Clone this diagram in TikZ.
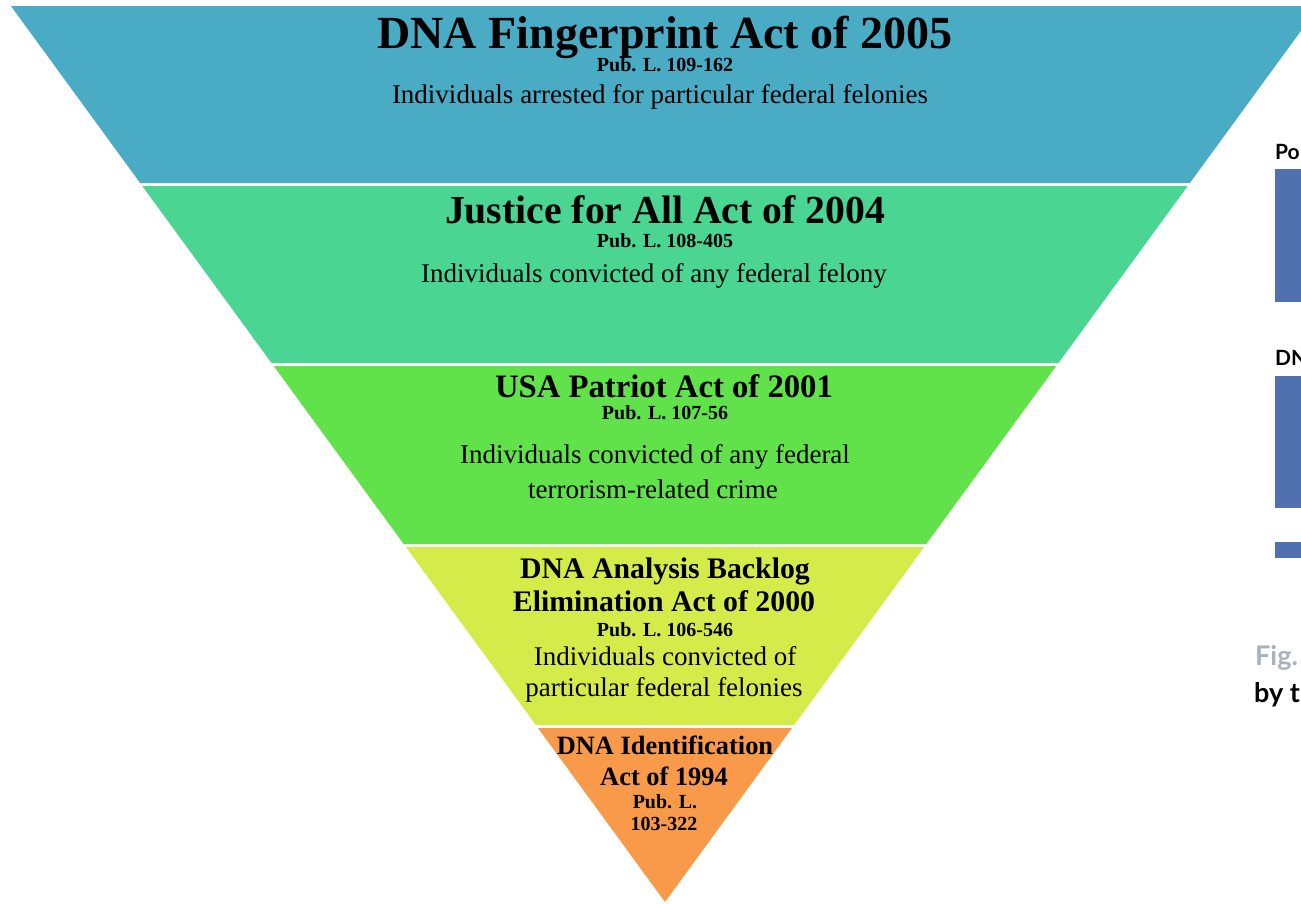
\documentclass[tikz,border=0pt]{standalone}
\usepackage{fontspec}
\setmainfont{Liberation Serif}
\newfontfamily\latofont{Lato}
\definecolor{bandA}{HTML}{4AABC5}
\definecolor{bandB}{HTML}{4AD593}
\definecolor{bandC}{HTML}{61E14A}
\definecolor{bandD}{HTML}{D5EB4A}
\definecolor{bandE}{HTML}{F89A4A}
\definecolor{barblue}{HTML}{5070B0}
\definecolor{figgray}{HTML}{A9B1BD}
\newcommand\fsz[1]{\fontsize{#1}{#1}\selectfont}
\newcommand\bandshape[3]{%
  \fill[#3] ({665-0.73*(902-#1)},#1) -- ({665+0.73*(902-#1)},#1)
    -- ({665+0.73*(902-#2)},#2) -- ({665-0.73*(902-#2)},#2) -- cycle;}
\begin{document}
\begin{tikzpicture}[x=1pt,y=-1pt,
  lbl/.style={anchor=base,inner sep=0pt,text=black},
  side/.style={anchor=base west,inner sep=0pt,font=\latofont\bfseries\fsz{21}}]
\useasboundingbox[fill=white] (0,0) rectangle (1301,903);
% bands
\bandshape{6}{183}{bandA}
\bandshape{186}{363}{bandB}
\bandshape{366}{544}{bandC}
\bandshape{547}{725}{bandD}
\bandshape{728}{902}{bandE}
% band 1
\node[lbl,font=\bfseries\fsz{46}] (t1) at (665,48) {DNA Fingerprint Act of 2005};
\node[lbl,font=\bfseries\fsz{20}] (p1) at (665,71) {Pub. L. 109-162};
\node[lbl,font=\fsz{27}] (d1) at (660,103) {Individuals arrested for particular federal felonies};
% band 2
\node[lbl,font=\bfseries\fsz{39.7}] (t2) at (665,223) {Justice for All Act of 2004};
\node[lbl,font=\bfseries\fsz{20}] (p2) at (665,247) {Pub. L. 108-405};
\node[lbl,font=\fsz{27}] (d2) at (654,282) {Individuals convicted of any federal felony};
% band 3
\node[lbl,font=\bfseries\fsz{32.7}] (t3) at (664,397) {USA Patriot Act of 2001};
\node[lbl,font=\bfseries\fsz{20}] (p3) at (665,419) {Pub. L. 107-56};
\node[lbl,font=\fsz{27}] (d3a) at (655,463) {Individuals convicted of any federal};
\node[lbl,font=\fsz{27}] (d3b) at (653,498) {terrorism-related crime};
% band 4
\node[lbl,font=\bfseries\fsz{29.8}] (t4a) at (665,578) {DNA Analysis Backlog};
\node[lbl,font=\bfseries\fsz{29.8}] (t4b) at (664,611) {Elimination Act of 2000};
\node[lbl,font=\bfseries\fsz{20}] (p4) at (665,636) {Pub. L. 106-546};
\node[lbl,font=\fsz{27}] (d4a) at (665,665) {Individuals convicted of};
\node[lbl,font=\fsz{27}] (d4b) at (664,696) {particular federal felonies};
% band 5
\node[lbl,font=\bfseries\fsz{26.4}] (t5a) at (665,754) {DNA Identification};
\node[lbl,font=\bfseries\fsz{26.4}] (t5b) at (664,785) {Act of 1994};
\node[lbl,font=\bfseries\fsz{20}] (p5a) at (665,808) {Pub. L.};
\node[lbl,font=\bfseries\fsz{20}] (p5b) at (664,830) {103-322};
% right side (cropped neighbouring figure)
\node[side] (po) at (1275,159) {Po};
\fill[barblue] (1275,169) rectangle (1301,302);
\node[side] (dn) at (1275,365) {DN};
\fill[barblue] (1275,376) rectangle (1301,508);
\fill[barblue] (1275,542) rectangle (1301,558);
\node[side,font=\latofont\bfseries\fsz{27},text=figgray] (fig) at (1255,665) {Fig.};
\node[side,font=\latofont\bfseries\fsz{27}] (byt) at (1254,702) {by t};
\end{tikzpicture}
\end{document}
